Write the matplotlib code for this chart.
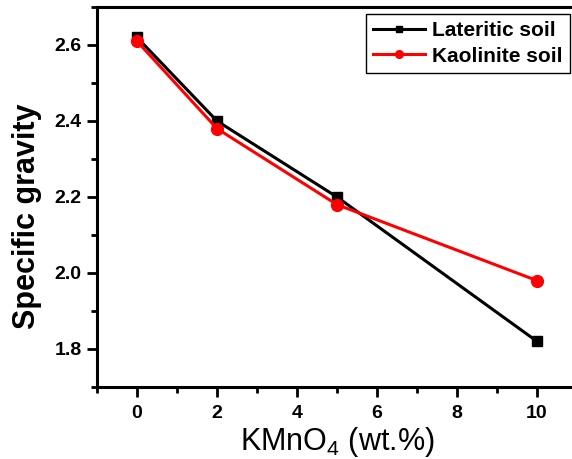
import matplotlib
matplotlib.use("Agg")
import matplotlib.pyplot as plt
from matplotlib.ticker import MultipleLocator

plt.rcParams["font.family"] = ["Liberation Sans", "DejaVu Sans"]
plt.rcParams["mathtext.fontset"] = "custom"
plt.rcParams["mathtext.rm"] = "Liberation Sans"
plt.rcParams["mathtext.default"] = "regular"

# data
kmno4_pct = [0, 2, 5, 10]
lateritic = [2.62, 2.40, 2.20, 1.82]
kaolinite = [2.61, 2.38, 2.18, 1.98]

fig = plt.figure(figsize=(5.72, 4.59), dpi=100)
# axes run past the right edge, the original figure is cropped there
ax = fig.add_axes([97 / 572, 72 / 459, 480 / 572, 380 / 459])

ax.plot(kmno4_pct, lateritic, color="black", linewidth=2.2, marker="s",
        markersize=7.5, label="Lateritic soil")
ax.plot(kmno4_pct, kaolinite, color="red", linewidth=2.2, marker="o",
        markersize=8.5, label="Kaolinite soil")

ax.set_xlim(-1, 11)
ax.set_ylim(1.7, 2.7)
ax.xaxis.set_major_locator(MultipleLocator(2))
ax.xaxis.set_minor_locator(MultipleLocator(1))
ax.yaxis.set_major_locator(MultipleLocator(0.2))
ax.yaxis.set_minor_locator(MultipleLocator(0.1))

for side in ax.spines.values():
    side.set_linewidth(2.2)

ax.tick_params(which="major", direction="out", length=7, width=2, labelsize=14, pad=4)
ax.tick_params(which="minor", direction="out", length=4.5, width=2)
ax.tick_params(axis="x", which="major", pad=6)
for lbl in ax.get_xticklabels() + ax.get_yticklabels():
    lbl.set_fontweight("bold")

ax.set_xlabel("KMnO$_4$ (wt.%)", fontsize=22, labelpad=2)
ax.set_ylabel("Specific gravity", fontsize=22, fontweight="bold")
ax.yaxis.set_label_coords(-0.115, 0.45)

leg = ax.legend(loc="upper right", bbox_to_anchor=(570 / 572, 1 - 14 / 459),
                bbox_transform=fig.transFigure, borderaxespad=0,
                prop={"weight": "bold", "size": 15}, fancybox=False,
                edgecolor="black", framealpha=1, handlelength=2.5,
                handletextpad=0.35, borderpad=0.35, labelspacing=0.3,
                markerscale=0.65)
leg.get_frame().set_linewidth(1.0)

fig.savefig("out.png", dpi=100)
plt.close(fig)
